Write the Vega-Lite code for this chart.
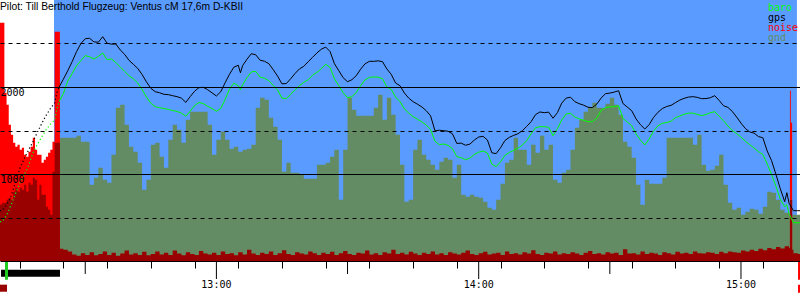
{
 "$schema": "https://vega.github.io/schema/vega-lite/v6.json",
 "width": 800,
 "height": 261,
 "autosize": "none",
 "padding": {"left": 0, "top": 0, "right": 0, "bottom": 39},
 "background": "white",
 "config": {"view": {"stroke": null}},
 "title": {"text": "Pilot: Till Berthold Flugzeug: Ventus cM 17,6m D-KBII", "anchor": "start", "frame": "group", "orient": "top", "offset": -12, "font": "Liberation Sans", "fontSize": 10.3, "fontWeight": "normal", "color": "#000000"},
 "datasets": {
  "bg": [{"start": 742.85, "end": 912.8}],
  "longticks": [{"t": 750, "len": -149}, {"t": 780, "len": -207}, {"t": 810, "len": -149}, {"t": 840, "len": -207}, {"t": 870, "len": -149}, {"t": 900, "len": -207}],
  "hours": [{"t": 780, "label": "13:00"}, {"t": 840, "label": "14:00"}, {"t": 900, "label": "15:00"}],
  "markers": [
   {"start": 730.73, "end": 744.22, "lo": -180, "hi": -100, "kind": "engine"},
   {"start": 731.64, "end": 732.33, "lo": -215, "hi": 0, "kind": "start"},
   {"start": 730.5, "end": 732.1, "lo": -353, "hi": -272, "kind": "enl"},
   {"start": 913.05, "end": 913.5, "lo": -215, "hi": -8, "kind": "noise"},
   {"start": 913.05, "end": 913.5, "lo": -364, "hi": -272, "kind": "noise"}
  ],
  "flight": [
   {"t":730.5,"gps":578,"baro":452,"gnd":450},{"t":731,"gps":578,"baro":452,"gnd":450},{"t":732,"gps":647,"baro":525,"gnd":450},{"t":733,"gps":744,"baro":641,"gnd":450},{"t":734,"gps":897,"baro":769,"gnd":450},{"t":735,"gps":1060,"baro":892,"gnd":450},{"t":736,"gps":1172,"baro":985,"gnd":450},{"t":737,"gps":1272,"baro":1095,"gnd":450},{"t":738,"gps":1367,"baro":1238,"gnd":450},{"t":739,"gps":1475,"baro":1334,"gnd":450},{"t":740,"gps":1576,"baro":1422,"gnd":450},{"t":741,"gps":1670,"baro":1505,"gnd":450},{"t":742,"gps":1750,"baro":1570,"gnd":450},{"t":743,"gps":1815,"baro":1621,"gnd":450},{"t":743.5,"gps":1934,"baro":1739,"gnd":450},{"t":744,"gps":1998,"baro":1831,"gnd":1417},
   {"t":745,"gps":2090,"baro":1925,"gnd":1417},{"t":746,"gps":2187,"baro":2069,"gnd":1417},{"t":747,"gps":2291,"baro":2155,"gnd":1417},{"t":748,"gps":2406,"baro":2243,"gnd":1440},{"t":749,"gps":2499,"baro":2303,"gnd":1371},{"t":750,"gps":2555,"baro":2360,"gnd":1371},{"t":751,"gps":2560,"baro":2348,"gnd":877},{"t":752,"gps":2518,"baro":2321,"gnd":957},{"t":753,"gps":2515,"baro":2353,"gnd":1072},{"t":754,"gps":2578,"baro":2391,"gnd":934},{"t":755,"gps":2503,"baro":2313,"gnd":900},{"t":756,"gps":2493,"baro":2323,"gnd":1222},{"t":757,"gps":2494,"baro":2280,"gnd":1762},{"t":758,"gps":2426,"baro":2231,"gnd":1797},{"t":759,"gps":2376,"baro":2180,"gnd":1567},{"t":760,"gps":2307,"baro":2130,"gnd":1314},{"t":761,"gps":2261,"baro":2095,"gnd":1256},{"t":762,"gps":2214,"baro":2047,"gnd":1130},{"t":763,"gps":2144,"baro":1971,"gnd":819},{"t":764,"gps":2059,"baro":1886,"gnd":934},{"t":765,"gps":1985,"baro":1813,"gnd":1337},{"t":766,"gps":1946,"baro":1774,"gnd":1360},{"t":767,"gps":1934,"baro":1762,"gnd":1199},{"t":768,"gps":1916,"baro":1753,"gnd":1072},{"t":769,"gps":1912,"baro":1742,"gnd":1394},{"t":770,"gps":1900,"baro":1730,"gnd":1567},{"t":771,"gps":1889,"baro":1719,"gnd":1509},{"t":772,"gps":1872,"baro":1700,"gnd":1360},{"t":773,"gps":1823,"baro":1664,"gnd":1624},{"t":774,"gps":1889,"baro":1721,"gnd":1716},{"t":775,"gps":1951,"baro":1786,"gnd":1716},{"t":776,"gps":1992,"baro":1822,"gnd":1716},{"t":777,"gps":1997,"baro":1809,"gnd":1716},{"t":778,"gps":1969,"baro":1778,"gnd":1567},{"t":779,"gps":1933,"baro":1753,"gnd":1222},
   {"t":780,"gps":1897,"baro":1721,"gnd":1394},{"t":781,"gps":1946,"baro":1754,"gnd":1486},{"t":782,"gps":2049,"baro":1856,"gnd":1394},{"t":783,"gps":2147,"baro":1975,"gnd":1291},{"t":784,"gps":2228,"baro":2044,"gnd":1314},{"t":785,"gps":2250,"baro":2015,"gnd":1256},{"t":785.5,"gps":2164,"baro":1969,"gnd":1256},{"t":786,"gps":2245,"baro":2026,"gnd":1279},{"t":787,"gps":2319,"baro":2107,"gnd":1291},{"t":788,"gps":2383,"baro":2174,"gnd":1337},{"t":789,"gps":2370,"baro":2180,"gnd":1762},{"t":790,"gps":2308,"baro":2113,"gnd":1877},{"t":791,"gps":2296,"baro":2101,"gnd":1854},{"t":792,"gps":2268,"baro":2072,"gnd":1647},{"t":793,"gps":2199,"baro":2018,"gnd":1544},{"t":794,"gps":2125,"baro":1964,"gnd":1394},{"t":795,"gps":2036,"baro":1872,"gnd":1026},{"t":796,"gps":2040,"baro":1868,"gnd":1130},{"t":797,"gps":2095,"baro":1917,"gnd":1015},{"t":798,"gps":2156,"baro":1968,"gnd":1015},{"t":799,"gps":2208,"baro":2015,"gnd":992},{"t":800,"gps":2238,"baro":2054,"gnd":946},{"t":801,"gps":2291,"baro":2084,"gnd":946},{"t":802,"gps":2341,"baro":2135,"gnd":946},{"t":803,"gps":2392,"baro":2168,"gnd":1107},{"t":804,"gps":2434,"baro":2211,"gnd":1107},{"t":805,"gps":2459,"baro":2262,"gnd":1130},{"t":806,"gps":2408,"baro":2224,"gnd":1199},{"t":807,"gps":2268,"baro":2095,"gnd":1279},{"t":808,"gps":2187,"baro":2015,"gnd":705},{"t":809,"gps":2107,"baro":1934,"gnd":1279},{"t":810,"gps":2061,"baro":1877,"gnd":1877},{"t":811,"gps":2084,"baro":1889,"gnd":1739},{"t":812,"gps":2131,"baro":1936,"gnd":1670},{"t":813,"gps":2205,"baro":2016,"gnd":1670},{"t":814,"gps":2266,"baro":2082,"gnd":1670},{"t":815,"gps":2295,"baro":2111,"gnd":1670},{"t":816,"gps":2295,"baro":2115,"gnd":1762},{"t":817,"gps":2301,"baro":2114,"gnd":1912},{"t":818,"gps":2291,"baro":2095,"gnd":1624},{"t":819,"gps":2207,"baro":2000,"gnd":1877},
   {"t":820,"gps":2145,"baro":1972,"gnd":1682},{"t":821,"gps":2045,"baro":1884,"gnd":1452},{"t":822,"gps":2015,"baro":1831,"gnd":1107},{"t":823,"gps":1931,"baro":1749,"gnd":682},{"t":824,"gps":1872,"baro":1700,"gnd":705},{"t":825,"gps":1831,"baro":1659,"gnd":1279},{"t":826,"gps":1802,"baro":1630,"gnd":1394},{"t":827,"gps":1771,"baro":1599,"gnd":1222},{"t":828,"gps":1728,"baro":1563,"gnd":1164},{"t":829,"gps":1668,"baro":1511,"gnd":1107},{"t":830,"gps":1497,"baro":1377,"gnd":1049},{"t":831,"gps":1503,"baro":1337,"gnd":1141},{"t":832,"gps":1498,"baro":1345,"gnd":1187},{"t":833,"gps":1491,"baro":1329,"gnd":1164},{"t":834,"gps":1462,"baro":1292,"gnd":957},{"t":835,"gps":1351,"baro":1199,"gnd":1107},{"t":836,"gps":1355,"baro":1187,"gnd":762},{"t":837,"gps":1330,"baro":1164,"gnd":739},{"t":838,"gps":1344,"baro":1183,"gnd":762},{"t":839,"gps":1390,"baro":1224,"gnd":739},{"t":840,"gps":1425,"baro":1251,"gnd":727},{"t":841,"gps":1433,"baro":1264,"gnd":682},{"t":842,"gps":1391,"baro":1241,"gnd":613},{"t":843,"gps":1244,"baro":1114,"gnd":590},{"t":844,"gps":1234,"baro":1084,"gnd":705},{"t":845,"gps":1302,"baro":1141,"gnd":888},{"t":846,"gps":1385,"baro":1214,"gnd":1130},{"t":847,"gps":1421,"baro":1248,"gnd":1164},{"t":848,"gps":1444,"baro":1271,"gnd":1417},{"t":849,"gps":1463,"baro":1298,"gnd":1279},{"t":850,"gps":1498,"baro":1332,"gnd":1279},{"t":851,"gps":1548,"baro":1385,"gnd":1107},{"t":852,"gps":1602,"baro":1463,"gnd":1337},{"t":853,"gps":1682,"baro":1532,"gnd":1245},{"t":854,"gps":1713,"baro":1544,"gnd":1440},{"t":855,"gps":1705,"baro":1544,"gnd":1279},{"t":856,"gps":1711,"baro":1537,"gnd":1337},{"t":857,"gps":1641,"baro":1440,"gnd":934},{"t":858,"gps":1705,"baro":1521,"gnd":900},{"t":859,"gps":1815,"baro":1620,"gnd":1015},
   {"t":860,"gps":1872,"baro":1690,"gnd":1049},{"t":861,"gps":1883,"baro":1698,"gnd":1279},{"t":862,"gps":1831,"baro":1654,"gnd":1532},{"t":863,"gps":1808,"baro":1634,"gnd":1624},{"t":864,"gps":1791,"baro":1618,"gnd":1716},{"t":865,"gps":1767,"baro":1601,"gnd":1762},{"t":866,"gps":1763,"baro":1601,"gnd":1820},{"t":867,"gps":1802,"baro":1640,"gnd":1762},{"t":868,"gps":1872,"baro":1732,"gnd":1762},{"t":869,"gps":1923,"baro":1762,"gnd":1808},{"t":870,"gps":1930,"baro":1772,"gnd":1877},{"t":871,"gps":1941,"baro":1774,"gnd":1797},{"t":872,"gps":1957,"baro":1785,"gnd":1682},{"t":873,"gps":1811,"baro":1639,"gnd":1371},{"t":874,"gps":1769,"baro":1597,"gnd":1314},{"t":875,"gps":1728,"baro":1556,"gnd":1187},{"t":876,"gps":1633,"baro":1461,"gnd":877},{"t":877,"gps":1567,"baro":1390,"gnd":647},{"t":878,"gps":1517,"baro":1333,"gnd":934},{"t":879,"gps":1568,"baro":1402,"gnd":888},{"t":880,"gps":1650,"baro":1493,"gnd":888},{"t":881,"gps":1709,"baro":1554,"gnd":888},{"t":882,"gps":1752,"baro":1583,"gnd":957},{"t":883,"gps":1776,"baro":1592,"gnd":1417},{"t":884,"gps":1789,"baro":1606,"gnd":1417},{"t":885,"gps":1820,"baro":1647,"gnd":1417},{"t":886,"gps":1849,"baro":1667,"gnd":1417},{"t":887,"gps":1870,"baro":1686,"gnd":1417},{"t":888,"gps":1884,"baro":1700,"gnd":1417},{"t":889,"gps":1889,"baro":1699,"gnd":1337},{"t":890,"gps":1881,"baro":1685,"gnd":1452},{"t":891,"gps":1866,"baro":1672,"gnd":1107},{"t":892,"gps":1867,"baro":1684,"gnd":1038},{"t":893,"gps":1877,"baro":1705,"gnd":1049},{"t":894,"gps":1900,"baro":1716,"gnd":1095},{"t":895,"gps":1846,"baro":1663,"gnd":1222},{"t":896,"gps":1785,"baro":1613,"gnd":877},{"t":897,"gps":1766,"baro":1553,"gnd":670},{"t":898,"gps":1720,"baro":1501,"gnd":590},{"t":899,"gps":1655,"baro":1464,"gnd":613},
   {"t":900,"gps":1585,"baro":1424,"gnd":532},{"t":901,"gps":1523,"baro":1378,"gnd":567},{"t":902,"gps":1484,"baro":1337,"gnd":601},{"t":903,"gps":1470,"baro":1298,"gnd":590},{"t":904,"gps":1430,"baro":1257,"gnd":544},{"t":905,"gps":1417,"baro":1226,"gnd":624},{"t":906,"gps":1264,"baro":1115,"gnd":796},{"t":907,"gps":1153,"baro":994,"gnd":785},{"t":908,"gps":995,"baro":859,"gnd":705},{"t":909,"gps":830,"baro":709,"gnd":590},{"t":910,"gps":682,"baro":624,"gnd":555},{"t":910.5,"gps":785,"baro":647,"gnd":555},{"t":911,"gps":664,"baro":544,"gnd":532},{"t":912,"gps":578,"baro":440,"gnd":532},{"t":913,"gps":578,"baro":440,"gnd":532},{"t":913.5,"gps":578,"baro":440,"gnd":532}
  ],
  "noise": [
   {"t":730.5,"noise":2739,"enl":649},{"t":731,"noise":2739,"enl":670},{"t":731.5,"noise":1934,"enl":670},{"t":732,"noise":1797,"enl":705},{"t":732.5,"noise":1567,"enl":727},{"t":733,"noise":1452,"enl":705},{"t":733.5,"noise":1360,"enl":796},{"t":734,"noise":1314,"enl":842},{"t":734.5,"noise":1337,"enl":796},{"t":735,"noise":1279,"enl":842},{"t":735.5,"noise":1302,"enl":819},{"t":736,"noise":1222,"enl":877},{"t":736.5,"noise":1199,"enl":796},{"t":737,"noise":1256,"enl":900},{"t":737.5,"noise":1314,"enl":877},{"t":738,"noise":1417,"enl":957},{"t":738.5,"noise":1279,"enl":934},{"t":739,"noise":1222,"enl":705},{"t":739.5,"noise":1222,"enl":877},{"t":740,"noise":1130,"enl":762},{"t":740.5,"noise":1164,"enl":762},{"t":741,"noise":1199,"enl":624},{"t":741.5,"noise":1245,"enl":590},{"t":742,"noise":1279,"enl":532},{"t":742.5,"noise":1371,"enl":1026},{"t":743,"noise":2635,"enl":1360},{"t":743.5,"noise":2635,"enl":1360},{"t":744,"noise":2635,"enl":1360},{"t":744.2,"noise":0,"enl":141},
   {"t":745,"enl":130},{"t":746,"enl":110},{"t":747,"enl":75},{"t":748,"enl":60},{"t":749,"enl":90},{"t":750,"enl":70},{"t":751,"enl":100},{"t":752,"enl":65},{"t":753,"enl":80},{"t":754,"enl":110},{"t":755,"enl":70},{"t":756,"enl":95},{"t":757,"enl":60},{"t":758,"enl":85},{"t":759,"enl":120},{"t":760,"enl":75},{"t":761,"enl":90},{"t":762,"enl":70},{"t":763,"enl":105},{"t":764,"enl":65},{"t":765,"enl":80},{"t":766,"enl":110},{"t":767,"enl":75},{"t":768,"enl":95},{"t":769,"enl":70},{"t":770,"enl":120},{"t":771,"enl":85},{"t":772,"enl":65},{"t":773,"enl":100},{"t":774,"enl":80},{"t":775,"enl":70},{"t":776,"enl":115},{"t":777,"enl":85},{"t":778,"enl":75},{"t":779,"enl":95},{"t":780,"enl":70},{"t":781,"enl":110},{"t":782,"enl":80},{"t":783,"enl":90},{"t":784,"enl":65},{"t":785,"enl":100},{"t":786,"enl":75},{"t":787,"enl":130},{"t":788,"enl":85},{"t":789,"enl":70},{"t":790,"enl":95},{"t":791,"enl":80},{"t":792,"enl":110},{"t":793,"enl":70},{"t":794,"enl":90},{"t":795,"enl":125},{"t":796,"enl":80},{"t":797,"enl":70},{"t":798,"enl":100},{"t":799,"enl":85},
   {"t":800,"enl":75},{"t":801,"enl":110},{"t":802,"enl":90},{"t":803,"enl":70},{"t":804,"enl":95},{"t":805,"enl":80},{"t":806,"enl":105},{"t":807,"enl":70},{"t":808,"enl":90},{"t":809,"enl":115},{"t":810,"enl":80},{"t":811,"enl":70},{"t":812,"enl":95},{"t":813,"enl":85},{"t":814,"enl":120},{"t":815,"enl":75},{"t":816,"enl":90},{"t":817,"enl":70},{"t":818,"enl":100},{"t":819,"enl":85},{"t":820,"enl":130},{"t":821,"enl":80},{"t":822,"enl":95},{"t":823,"enl":75},{"t":824,"enl":105},{"t":825,"enl":85},{"t":826,"enl":70},{"t":827,"enl":95},{"t":828,"enl":80},{"t":829,"enl":110},{"t":830,"enl":75},{"t":831,"enl":90},{"t":832,"enl":70},{"t":833,"enl":100},{"t":834,"enl":85},{"t":835,"enl":75},{"t":836,"enl":95},{"t":837,"enl":120},{"t":838,"enl":80},{"t":839,"enl":70},{"t":840,"enl":90},{"t":841,"enl":105},{"t":842,"enl":75},{"t":843,"enl":85},{"t":844,"enl":95},{"t":845,"enl":70},{"t":846,"enl":110},{"t":847,"enl":80},{"t":848,"enl":90},{"t":849,"enl":75},{"t":850,"enl":100},{"t":851,"enl":85},{"t":852,"enl":125},{"t":853,"enl":80},{"t":854,"enl":70},{"t":855,"enl":95},{"t":856,"enl":85},{"t":857,"enl":110},{"t":858,"enl":75},{"t":859,"enl":90},
   {"t":860,"enl":80},{"t":861,"enl":100},{"t":862,"enl":85},{"t":863,"enl":70},{"t":864,"enl":95},{"t":865,"enl":115},{"t":866,"enl":80},{"t":867,"enl":90},{"t":868,"enl":75},{"t":869,"enl":100},{"t":870,"enl":85},{"t":871,"enl":95},{"t":872,"enl":70},{"t":873,"enl":135},{"t":874,"enl":85},{"t":875,"enl":90},{"t":876,"enl":75},{"t":877,"enl":110},{"t":878,"enl":80},{"t":879,"enl":95},{"t":880,"enl":85},{"t":881,"enl":70},{"t":882,"enl":100},{"t":883,"enl":90},{"t":884,"enl":75},{"t":885,"enl":105},{"t":886,"enl":85},{"t":887,"enl":95},{"t":888,"enl":80},{"t":889,"enl":110},{"t":890,"enl":90},{"t":891,"enl":85},{"t":892,"enl":100},{"t":893,"enl":95},{"t":894,"enl":80},{"t":895,"enl":105},{"t":896,"enl":90},{"t":897,"enl":110},{"t":898,"enl":100},{"t":899,"enl":95},{"t":900,"enl":120},{"t":901,"enl":110},{"t":902,"enl":130},{"t":903,"enl":115},{"t":904,"enl":140},{"t":905,"enl":125},{"t":906,"enl":150},{"t":907,"enl":135},{"t":908,"enl":160},{"t":909,"enl":145},{"t":910,"enl":170},{"t":911,"noise":0,"enl":150},{"t":911.2,"noise":1960,"enl":700},{"t":911.4,"noise":1590,"enl":700},{"t":911.7,"noise":0,"enl":130},{"t":912,"enl":90},{"t":913,"enl":80},{"t":913.5,"enl":80}
  ]
 },
 "layer": [
  {
   "data": {"name": "bg"},
   "mark": {"type": "rect", "color": "#5a9bff"},
   "encoding": {
    "x": {"field": "start", "type": "quantitative", "title": null,
     "scale": {"domain": [730.5, 913.5], "nice": false, "zero": false},
     "axis": {"orient": "bottom", "title": null, "values": [735,740,745,750,755,760,765,770,775,780,785,790,795,800,805,810,815,820,825,830,835,840,845,850,855,860,865,870,875,880,885,890,895,900,905,910],
      "grid": false, "domain": true, "domainColor": "#000000", "domainWidth": 1, "ticks": true, "tickColor": "#000000", "tickWidth": 1, "tickSize": 7,
      "labels": false, "zindex": 1}},
    "x2": {"field": "end"},
    "y": {"datum": 3000, "type": "quantitative", "title": null,
     "scale": {"domain": [0, 3000], "nice": false, "zero": false},
     "axis": {"orient": "left", "title": null, "values": [500, 1000, 1500, 2000, 2500], "grid": true, "gridColor": "#000000", "gridWidth": 1, "gridOpacity": 1,
      "gridDash": {"condition": {"test": "datum.value % 1000 != 0", "value": [4, 4]}, "value": []},
      "domain": false, "ticks": false, "tickSize": 0,
      "labelExpr": "datum.value % 1000 == 0 ? datum.value : ''",
      "labelAlign": "left", "labelBaseline": "top", "labelPadding": 0, "labelFont": "DejaVu Sans Mono", "labelFontSize": 10, "labelColor": "#000000", "labelOverlap": false, "labelBound": false, "labelFlush": false, "zindex": 1}},
    "y2": {"datum": 0}
   }
  },
  {
   "data": {"name": "flight"},
   "mark": {"type": "area", "interpolate": "step-after"},
   "encoding": {
    "x": {"field": "t", "type": "quantitative", "title": null},
    "y": {"field": "gnd", "type": "quantitative", "title": null},
    "color": {"datum": "gnd", "type": "nominal",
     "scale": {"domain": ["baro", "gps", "noise", "gnd"], "range": ["#00ff00", "#000000", "#ff0000", "#648c64"]},
     "legend": {"orient": "none", "legendX": 758, "legendY": 3, "padding": 0, "title": null, "symbolSize": 0, "symbolOpacity": 0, "symbolStrokeWidth": 0, "labelOffset": 0, "labelFont": "DejaVu Sans Mono", "labelFontSize": 10, "rowPadding": 0, "labelLimit": 100,
      "encode": {"labels": {"update": {"fill": {"scale": "color", "field": "value"}}}}}}
   }
  },
  {
   "data": {"name": "noise"},
   "mark": {"type": "area", "interpolate": "step-after"},
   "encoding": {
    "x": {"field": "t", "type": "quantitative", "title": null},
    "y": {"field": "noise", "type": "quantitative", "title": null},
    "color": {"datum": "noise", "type": "nominal"}
   }
  },
  {
   "data": {"name": "noise"},
   "mark": {"type": "area", "interpolate": "step-after", "color": "#990000"},
   "encoding": {
    "x": {"field": "t", "type": "quantitative", "title": null},
    "y": {"field": "enl", "type": "quantitative", "title": null}
   }
  },
  {
   "data": {"name": "flight"},
   "transform": [{"filter": "datum.t <= 744"}],
   "mark": {"type": "line", "strokeWidth": 1.2, "strokeDash": [1.2, 2.5]},
   "encoding": {
    "x": {"field": "t", "type": "quantitative", "title": null},
    "y": {"field": "gps", "type": "quantitative", "title": null},
    "color": {"datum": "gps", "type": "nominal"}
   }
  },
  {
   "data": {"name": "flight"},
   "transform": [{"filter": "datum.t >= 744"}],
   "mark": {"type": "line", "strokeWidth": 1},
   "encoding": {
    "x": {"field": "t", "type": "quantitative", "title": null},
    "y": {"field": "gps", "type": "quantitative", "title": null},
    "color": {"datum": "gps", "type": "nominal"}
   }
  },
  {
   "data": {"name": "flight"},
   "transform": [{"filter": "datum.t <= 744"}],
   "mark": {"type": "line", "strokeWidth": 1.2, "strokeDash": [1.2, 2.5]},
   "encoding": {
    "x": {"field": "t", "type": "quantitative", "title": null},
    "y": {"field": "baro", "type": "quantitative", "title": null},
    "color": {"datum": "baro", "type": "nominal"}
   }
  },
  {
   "data": {"name": "flight"},
   "transform": [{"filter": "datum.t >= 744"}],
   "mark": {"type": "line", "strokeWidth": 1},
   "encoding": {
    "x": {"field": "t", "type": "quantitative", "title": null},
    "y": {"field": "baro", "type": "quantitative", "title": null},
    "color": {"datum": "baro", "type": "nominal"}
   }
  },
  {
   "data": {"name": "longticks"},
   "mark": {"type": "rule", "color": "#000000", "strokeWidth": 1},
   "encoding": {
    "x": {"field": "t", "type": "quantitative", "title": null},
    "y": {"field": "len", "type": "quantitative", "title": null},
    "y2": {"datum": 0}
   }
  },
  {
   "data": {"name": "hours"},
   "mark": {"type": "text", "font": "DejaVu Sans Mono", "fontSize": 10, "color": "#000000", "align": "center", "baseline": "middle"},
   "encoding": {
    "x": {"field": "t", "type": "quantitative", "title": null},
    "y": {"datum": -278, "type": "quantitative", "title": null},
    "text": {"field": "label"}
   }
  },
  {
   "data": {"name": "markers"},
   "mark": {"type": "rect"},
   "encoding": {
    "x": {"field": "start", "type": "quantitative", "title": null},
    "x2": {"field": "end"},
    "y": {"field": "hi", "type": "quantitative", "title": null},
    "y2": {"field": "lo"},
    "fill": {"field": "kind", "type": "nominal", "legend": null,
     "scale": {"domain": ["engine", "start", "enl", "noise"], "range": ["#000000", "#22cc22", "#990000", "#ff0000"]}}
   }
  }
 ]
}
